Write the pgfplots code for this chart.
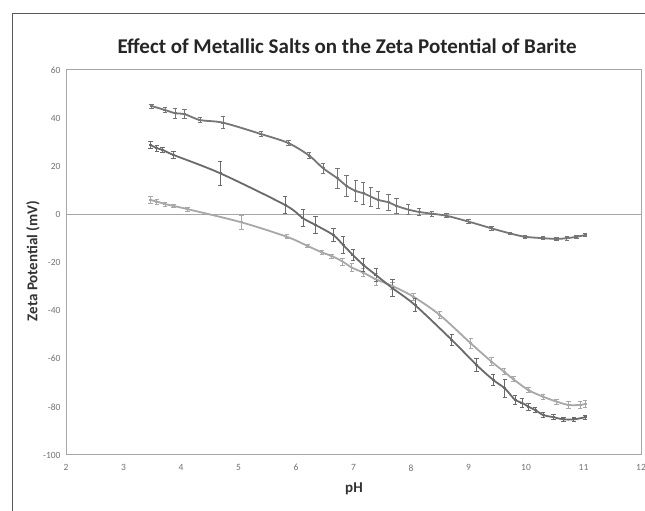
\documentclass[border=0pt]{standalone}
\usepackage{pgfplots}
\pgfplotsset{compat=1.18}
\usepackage{fontspec}
\setmainfont{Carlito}
\definecolor{ca}{HTML}{767676}
\definecolor{cb}{HTML}{6A6A6A}
\definecolor{cc}{HTML}{A8A8A8}
\definecolor{axc}{HTML}{A6A6A6}
\pgfplotstableread{
x y e
3.49 45.0 0.8
3.72 43.4 1
3.90 42.0 2
4.06 41.7 2
4.33 39.2 1
4.73 38.1 2.5
5.39 33.4 1
5.87 29.6 1
6.23 24.4 1.2
6.47 19.2 2
6.72 15.0 4.3
6.88 11.8 4.2
7.04 9.7 4.4
7.17 8.8 4.5
7.30 7.4 4
7.43 6.0 3.5
7.61 5.0 3.5
7.75 3.5 3
7.95 2.0 2
8.14 1.0 1.5
8.36 0.3 1
8.62 -0.6 0.8
9.00 -3.0 0.8
9.40 -5.8 0.8
9.72 -7.9 0.6
9.98 -9.3 0.6
10.30 -9.9 0.6
10.53 -10.2 0.8
10.71 -9.9 0.8
10.88 -9.3 0.6
11.03 -8.6 0.6
}\tA
\pgfplotstableread{
x y e
3.47 28.8 1.5
3.58 27.5 1.2
3.68 26.8 1.2
3.87 24.7 1.5
4.68 17.1 4.9
5.81 3.9 3.5
6.12 -1.6 3.5
6.34 -4.4 3.5
6.65 -8.6 2.6
6.82 -12.7 3.5
6.99 -16.9 2.4
7.17 -21.0 2.8
7.39 -25.2 2.8
7.68 -30.7 3.5
8.07 -37.7 2.6
8.71 -52.2 2.4
9.14 -62.6 2.8
9.43 -68.8 2.4
9.63 -72.3 3.8
9.81 -77.1 2
9.93 -78.3 2
10.04 -79.9 1.5
10.16 -81.3 1.2
10.30 -83.4 1
10.48 -84.3 1
10.65 -85.2 0.8
10.83 -85.2 0.8
11.03 -84.3 0.8
}\tB
\pgfplotstableread{
x y e
3.47 6.0 1.5
3.58 5.3 1
3.72 4.3 0.8
3.87 3.5 0.8
4.11 2.2 0.8
5.05 -3.3 3
5.84 -9.3 0.8
6.20 -13.1 0.8
6.45 -15.8 0.8
6.62 -17.3 0.8
6.81 -19.6 1.5
6.97 -22.1 1.7
7.17 -24.2 1.7
7.39 -27.0 2.4
7.68 -29.8 1.5
8.04 -34.2 1.5
8.50 -41.8 1.6
9.04 -53.6 1.9
9.40 -61.2 1.6
9.62 -65.4 1.2
9.78 -68.5 1
10.04 -73.0 1
10.30 -75.8 1
10.53 -77.8 1
10.74 -79.2 1.5
10.94 -79.2 1.5
11.03 -78.8 1.5
}\tC
\begin{document}
\begin{tikzpicture}[x=1pt,y=1pt]
\useasboundingbox (0,0) rectangle (645,511);
\fill[white] (0,0) rectangle (645,511);
\draw[black!65, line width=1pt] (12,-2) -- (12,497) -- (647,497);
\node[font=\fontsize{21}{23}\selectfont\bfseries, text=black!85] at (347,465) {Effect of Metallic Salts on the Zeta Potential of Barite};
\node[rotate=90, font=\fontsize{15}{17}\selectfont\bfseries, text=black!80] at (33,250) {Zeta Potential (mV)};
\node[font=\fontsize{15}{17}\selectfont\bfseries, text=black!80] at (354,22) {pH};
\begin{axis}[
  at={(66pt,56pt)}, anchor=south west,
  scale only axis, width=575pt, height=385pt,
  xmin=2, xmax=12, ymin=-100, ymax=60,
  xtick={2,3,...,12}, ytick={-100,-80,...,60},
  major tick length=0pt,
  axis line style={axc, line width=1pt},
  /pgf/number format/assume math mode=true,
  ticklabel style={font=\fontsize{9.5}{10}\selectfont, text=black!55},
  xticklabel style={yshift=-6pt},
  yticklabel style={xshift=-2pt},
  clip=false,
]
\addplot[axc, line width=1pt, forget plot] coordinates {(2,0) (12,0)};
\addplot[cc, line width=1.8pt, smooth, mark=-, mark size=1.5pt,
  error bars/.cd, y dir=both, y explicit,
  error bar style={cc, line width=0.8pt},
  error mark options={cc, rotate=90, mark size=2.2pt, line width=0.8pt}]
  table[x=x, y=y, y error=e] {\tC};
\addplot[ca, line width=1.8pt, smooth, mark=-, mark size=1.5pt,
  error bars/.cd, y dir=both, y explicit,
  error bar style={ca, line width=0.8pt},
  error mark options={ca, rotate=90, mark size=2.2pt, line width=0.8pt}]
  table[x=x, y=y, y error=e] {\tA};
\addplot[cb, line width=1.8pt, smooth, mark=-, mark size=1.5pt,
  error bars/.cd, y dir=both, y explicit,
  error bar style={cb, line width=0.8pt},
  error mark options={cb, rotate=90, mark size=2.2pt, line width=0.8pt}]
  table[x=x, y=y, y error=e] {\tB};
\end{axis}
\end{tikzpicture}
\end{document}
